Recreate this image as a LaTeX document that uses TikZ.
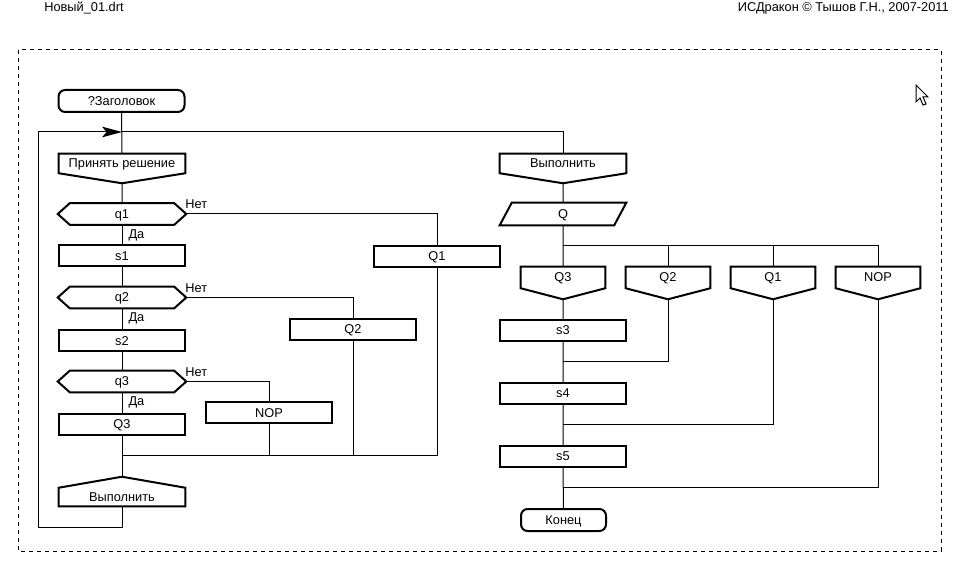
\documentclass[tikz,border=0pt]{standalone}
\usepackage{fontspec}
\setmainfont{Liberation Sans}
\usetikzlibrary{arrows.meta,backgrounds}
\definecolor{ink}{HTML}{000000}

\begin{document}
\begin{tikzpicture}[
  x=0.75pt, y=-0.75pt,
  font=\fontsize{9.6pt}{11pt}\selectfont, ink,
  txt/.style={inner sep=0pt, text height=7.6pt, text depth=1pt},
  outline/.style={draw=ink, line width=1.5pt, fill=white},
  act/.style={txt, outline, minimum width=94.5pt, minimum height=15.75pt},
  term/.style={act, rounded corners=5pt, minimum height=16.5pt},
  quest/.style={txt, minimum width=96pt, minimum height=15.75pt,
    append after command={\pgfextra{\let\qn\tikzlastnode
      \draw[outline] ([xshift=9pt]\qn.north west) -- ([xshift=-9pt]\qn.north east)
        -- (\qn.east) -- ([xshift=-9pt]\qn.south east)
        -- ([xshift=9pt]\qn.south west) -- (\qn.west) -- cycle;}}},
  tipbox/.style={txt, minimum width=94.5pt, minimum height=14.25pt,
    append after command={\pgfextra{\let\cn\tikzlastnode
      \draw[outline] (\cn.north west) -- (\cn.north east) -- (\cn.south east)
        -- ([yshift=-#1]\cn.south) -- (\cn.south west) -- cycle;}}},
  case/.style={tipbox=8.25pt, minimum width=63pt, minimum height=15.75pt},
  peak/.style={txt, minimum width=94.5pt, minimum height=13.5pt,
    append after command={\pgfextra{\let\pn\tikzlastnode
      \draw[outline] (\pn.south west) -- (\pn.north west) -- ([yshift=8.25pt]\pn.north)
        -- (\pn.north east) -- (\pn.south east) -- cycle;}}},
  slant/.style={txt, minimum width=94.5pt, minimum height=16.5pt,
    append after command={\pgfextra{\let\sn\tikzlastnode
      \draw[outline] ([xshift=9pt]\sn.north west) -- (\sn.north east)
        -- ([xshift=-9pt]\sn.south east) -- (\sn.south west) -- cycle;}}},
  wire/.style={draw=ink, line width=0.75pt},
  loopback/.style={wire, -{Stealth[length=15pt, width=8pt, inset=3.5pt]}},
  ans/.style={inner sep=0pt},
  hdr/.style={inner sep=0pt},
  frame/.style={draw=ink, line width=0.75pt, dash pattern=on 3pt off 3pt},
]
\useasboundingbox (0,0) rectangle (957,573);

% ---- page header -------------------------------------------------------------
\node[hdr, anchor=west] (file) at (44,8) {Новый\_01.drt};
\node[hdr, anchor=east] (copy) at (949,8) {ИСДракон © Тышов Г.Н., 2007-2011};
\draw[frame] (18,50) rectangle (941,551);
\draw[line width=0.75pt, fill=white] (916,85) -- (916,102) -- (920,98) -- (923,105)
  -- (926,104) -- (923,97) -- (928,97) -- cycle;

% ---- left branch: the choice --------------------------------------------------
\node[term] (title) at (121.5,101) {?Заголовок};
\node[tipbox=7.5pt] (choose) at (122,163.5) {Принять решение};
\node[quest] (q1) at (122,214) {q1};
\node[act] (s1) at (122,256) {s1};
\node[quest] (q2) at (122,297.5) {q2};
\node[act] (s2) at (122,341) {s2};
\node[quest] (q3) at (122,381.5) {q3};
\node[act] (q3act) at (122,424.5) {Q3};
\node[peak] (runL) at (122,497) {Выполнить};

\node[act] (q1act) at (437,256.5) {Q1};
\node[act] (q2act) at (353,329.5) {Q2};
\node[act] (nopact) at (269,413) {NOP};

\coordinate (loopin) at (122,132);
\coordinate (turn) at (38,527);
\coordinate (joinL) at (122,456);

% ---- right branch: the switch -------------------------------------------------
\node[tipbox=7.5pt] (runR) at (563,163.5) {Выполнить};
\node[slant] (sel) at (563,214) {Q};
\node[case] (c3) at (563,277.5) {Q3};
\node[case] (c2) at (668,277.5) {Q2};
\node[case] (c1) at (773,277.5) {Q1};
\node[case] (c0) at (878,277.5) {NOP};
\node[act] (s3) at (563,330.5) {s3};
\node[act] (s4) at (563,393.5) {s4};
\node[act] (s5) at (563,456.5) {s5};
\node[term, minimum width=63.75pt] (fin) at (563.5,520) {Конец};

\coordinate (fork) at (563,246);
\coordinate (j2) at (563,362);
\coordinate (j1) at (563,425);
\coordinate (j0) at (563,488);

% ---- wires --------------------------------------------------------------------
\begin{scope}[on background layer]
  \draw[wire] (title) -- (choose) -- (q1);
  \draw[wire] (q1) -- (s1) node[ans, pos=0, anchor=north west, xshift=4.5pt, yshift=-3pt] {Да};
  \draw[wire] (s1) -- (q2);
  \draw[wire] (q2) -- (s2) node[ans, pos=0, anchor=north west, xshift=4.5pt, yshift=-3pt] {Да};
  \draw[wire] (s2) -- (q3);
  \draw[wire] (q3) -- (q3act) node[ans, pos=0, anchor=north west, xshift=4.5pt, yshift=-3pt] {Да};
  \draw[wire] (q3act) -- (runL);

  \draw[wire] (q1.east) -| (q1act) node[ans, pos=0, anchor=base west, xshift=-1pt, yshift=4pt] {Нет};
  \draw[wire] (q2.east) -| (q2act) node[ans, pos=0, anchor=base west, xshift=-1pt, yshift=4pt] {Нет};
  \draw[wire] (q3.east) -| (nopact) node[ans, pos=0, anchor=base west, xshift=-1pt, yshift=4pt] {Нет};

  \draw[wire] (q1act) |- (joinL);
  \draw[wire] (q2act) |- (joinL);
  \draw[wire] (nopact) |- (joinL);

  \draw[loopback] (runL) |- (turn) |- (loopin);
  \draw[wire] (loopin) -| (runR);

  \draw[wire] (runR) -- (sel) -- (c3) -- (s3) -- (s4) -- (s5) -- (fin);
  \draw[wire] (fork) -| (c2);
  \draw[wire] (fork) -| (c1);
  \draw[wire] (fork) -| (c0);
  \draw[wire] (c2) |- (j2);
  \draw[wire] (c1) |- (j1);
  \draw[wire] (c0) |- (j0);
\end{scope}

\end{tikzpicture}
\end{document}
